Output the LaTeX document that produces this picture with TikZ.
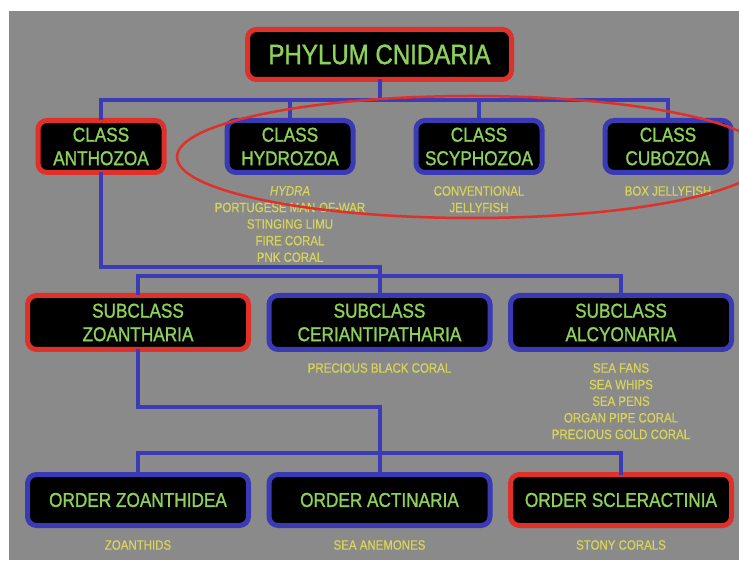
\documentclass[tikz,border=0pt]{standalone}
\usepackage{fontspec}
\usepackage{tikz}
\usetikzlibrary{
  positioning,
  calc
}
\newfontfamily\boxfont{Liberation Sans}[FakeStretch=0.86, FakeBold=1.2]
\newfontfamily\notefont{Liberation Sans}[FakeStretch=0.85, FakeBold=0.6]
\definecolor{slide}{HTML}{8A8A8A}
\definecolor{boxred}{HTML}{E0302A}
\definecolor{boxblue}{HTML}{3A3AB5}
\definecolor{linkblue}{HTML}{3B3BB8}
\definecolor{boxgreen}{HTML}{8CD25A}
\definecolor{noteyellow}{HTML}{D8D458}
\tikzset{
  x=1pt, y=1pt,
  node distance=189pt,
  box/.style={rectangle, rounded corners=9pt, fill=black, line width=5pt,
    outer sep=0pt, text=boxgreen, align=center,
    font=\boxfont\fontsize{20}{23.5}\selectfont},
  redbox/.style={box, draw=boxred},
  bluebox/.style={box, draw=boxblue},
  classbox/.style={minimum width=126pt, minimum height=52pt},
  subbox/.style={minimum width=221pt, minimum height=54pt},
  orderbox/.style={minimum width=221pt, minimum height=51pt},
  note/.style={text=noteyellow, align=center, inner sep=0pt,
    font=\notefont\fontsize{13.5}{16.6}\selectfont},
  link/.style={draw=linkblue, line width=4pt}
}

\begin{document}
\begin{tikzpicture}
    \useasboundingbox[fill=white] (0,0) rectangle (739,560);
    \fill[slide] (9,0) rectangle (739,549);

    \node[redbox, minimum width=264pt, minimum height=50pt,
      font=\boxfont\fontsize{28}{30}\selectfont] (phylum) at (379.5,505.5) {PHYLUM CNIDARIA};

    \node[redbox, classbox] (anthozoa) at (101,413.5) {CLASS\\ANTHOZOA};
    \node[bluebox, classbox, right of=anthozoa] (hydrozoa) {CLASS\\HYDROZOA};
    \node[bluebox, classbox, right of=hydrozoa] (scyphozoa) {CLASS\\SCYPHOZOA};
    \node[bluebox, classbox, right of=scyphozoa] (cubozoa) {CLASS\\CUBOZOA};

    \node[redbox, subbox] (zoantharia) at (138,237.5) {SUBCLASS\\ZOANTHARIA};
    \node[bluebox, subbox, right of=zoantharia, node distance=241.5pt] (ceriantipatharia) {SUBCLASS\\CERIANTIPATHARIA};
    \node[bluebox, subbox, right of=ceriantipatharia, node distance=241.5pt] (alcyonaria) {SUBCLASS\\ALCYONARIA};

    \node[bluebox, orderbox, below of=zoantharia, node distance=177.5pt] (zoanthidea) {ORDER ZOANTHIDEA};
    \node[bluebox, orderbox, right of=zoanthidea, node distance=241.5pt] (actinaria) {ORDER ACTINARIA};
    \node[redbox, orderbox, right of=actinaria, node distance=241.5pt] (scleractinia) {ORDER SCLERACTINIA};

    % examples under each group
    \node[note, below=13.5pt of hydrozoa] (hydrozoa-ex) {\textit{HYDRA}\\PORTUGESE MAN-OF-WAR\\STINGING LIMU\\FIRE CORAL\\PNK CORAL};
    \node[note, below=13.5pt of scyphozoa] (scyphozoa-ex) {CONVENTIONAL\\JELLYFISH};
    \node[note, below=13.5pt of cubozoa] (cubozoa-ex) {BOX JELLYFISH};
    \node[note, below=13.5pt of ceriantipatharia] (ceriantipatharia-ex) {PRECIOUS BLACK CORAL};
    \node[note, below=13.5pt of alcyonaria] (alcyonaria-ex) {SEA FANS\\SEA WHIPS\\SEA PENS\\ORGAN PIPE CORAL\\PRECIOUS GOLD CORAL};
    \node[note, below=14.5pt of zoanthidea] (zoanthidea-ex) {ZOANTHIDS};
    \node[note, below=14.5pt of actinaria] (actinaria-ex) {SEA ANEMONES};
    \node[note, below=14.5pt of scleractinia] (scleractinia-ex) {STONY CORALS};

    % phylum to classes
    \draw[link] (phylum.south) -- ++(0,-20.5) coordinate (class-bus);
    \draw[link] (anthozoa.north) |- (class-bus) -| (cubozoa.north);
    \draw[link] (hydrozoa.north) -- (hydrozoa.north |- class-bus);
    \draw[link] (scyphozoa.north) -- (scyphozoa.north |- class-bus);

    % anthozoa to subclasses
    \coordinate (sub-bus) at ($(ceriantipatharia.north)+(0,19.5)$);
    \draw[link] (anthozoa.south) |- ($(sub-bus)+(0,9)$) -- (sub-bus);
    \draw[link] (zoantharia.north) |- (sub-bus) -| (alcyonaria.north);
    \draw[link] (ceriantipatharia.north) -- (sub-bus);

    % zoantharia to orders
    \coordinate (order-bus) at ($(actinaria.north)+(0,21.5)$);
    \draw[link] (zoantharia.south) |- ($(actinaria.north)+(0,67.5)$) -- (actinaria.north);
    \draw[link] (zoanthidea.north) |- (order-bus) -| (scleractinia.north);

    \draw[boxred, line width=2.5pt] (472,403) ellipse [x radius=295, y radius=61];
\end{tikzpicture}
\end{document}
